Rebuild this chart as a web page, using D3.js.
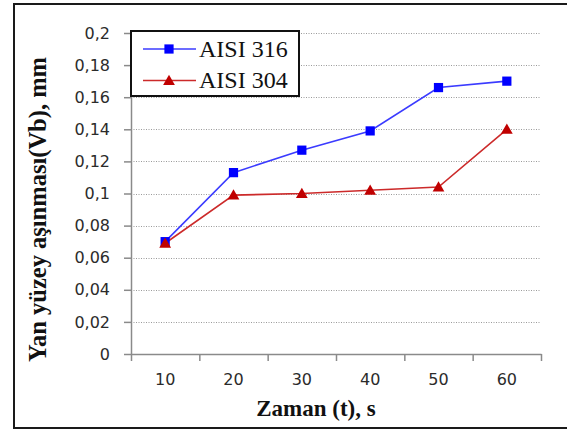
<!DOCTYPE html>
<html>
<head>
<meta charset="utf-8">
<script src="https://cdn.jsdelivr.net/npm/d3@7"></script>
<style>
  body { margin: 0; background: #fff; }
  svg { display: block; }
</style>
</head>
<body>
<div id="chart"></div>
<script>
// Veriler
var zaman = ["10", "20", "30", "40", "50", "60"];
var aisi316 = [0.070, 0.113, 0.127, 0.139, 0.166, 0.170];
var aisi304 = [0.069, 0.099, 0.100, 0.102, 0.104, 0.140];
var yTicks = [0, 0.02, 0.04, 0.06, 0.08, 0.1, 0.12, 0.14, 0.16, 0.18, 0.2];
var seriler = [
  { ad: "AISI 316", degerler: aisi316, renk: "#0000ff", cizgi: "#3b3bff", isaret: "kare" },
  { ad: "AISI 304", degerler: aisi304, renk: "#c00000", cizgi: "#cc2a2a", isaret: "ucgen" }
];

var W = 567, H = 430;
var plot = { left: 131, right: 541, top: 33, bottom: 354 };

var svg = d3.select("#chart").append("svg")
  .attr("width", W)
  .attr("height", H);

svg.append("rect").attr("width", W).attr("height", H).attr("fill", "#fff");

// dış çerçeve
svg.append("rect")
  .attr("x", 14).attr("y", 4)
  .attr("width", 620).attr("height", 424)
  .attr("fill", "none")
  .attr("stroke", "#1a1a1a")
  .attr("stroke-width", 2);

var xScale = d3.scaleBand().domain(zaman).range([plot.left, plot.right]).padding(0);
var xKenar = d3.scaleLinear().domain([0, zaman.length]).range([plot.left, plot.right]);
var yScale = d3.scaleLinear().domain([0, 0.2]).range([plot.bottom, plot.top]);

var loc = d3.formatLocale({ decimal: ",", thousands: ".", grouping: [3], currency: ["", ""] });
var fmt = loc.format(".2~f");

// yatay kılavuz çizgileri
svg.append("g")
  .selectAll("line")
  .data(yTicks.filter(function(d) { return d > 0; }))
  .enter()
  .append("line")
  .attr("x1", plot.left)
  .attr("x2", plot.right)
  .attr("y1", function(d) { return Math.round(yScale(d)) + 0.5; })
  .attr("y2", function(d) { return Math.round(yScale(d)) + 0.5; })
  .attr("stroke", "#9a9a9a")
  .attr("stroke-width", 1)
  .attr("stroke-dasharray", "1,1.5");

// y ekseni
var yAxis = svg.append("g")
  .attr("transform", "translate(" + plot.left + ",0)")
  .call(d3.axisLeft(yScale).tickValues(yTicks).tickFormat(fmt).tickSizeInner(7).tickSizeOuter(0).tickPadding(14));
yAxis.select(".domain").attr("stroke", "#8a8a8a").attr("stroke-width", 1.5);
yAxis.selectAll(".tick line").attr("stroke", "#8a8a8a").attr("stroke-width", 1.5);
yAxis.selectAll("text")
  .style("font-family", "'DejaVu Sans', sans-serif")
  .style("font-size", "16px")
  .attr("fill", "#2b2b2b");

// x ekseni: kenar işaretleri
var xAxisTicks = svg.append("g")
  .attr("transform", "translate(0," + plot.bottom + ")")
  .call(d3.axisBottom(xKenar).tickValues(d3.range(zaman.length + 1)).tickFormat("").tickSizeInner(7).tickSizeOuter(0));
xAxisTicks.select(".domain").attr("stroke", "#8a8a8a").attr("stroke-width", 1.5);
xAxisTicks.selectAll(".tick line").attr("stroke", "#8a8a8a").attr("stroke-width", 1.5);

// x ekseni: etiketler
var xAxis = svg.append("g")
  .attr("transform", "translate(0," + plot.bottom + ")")
  .call(d3.axisBottom(xScale).tickSize(0).tickPadding(20));
xAxis.select(".domain").remove();
xAxis.selectAll("text")
  .style("font-family", "'DejaVu Sans', sans-serif")
  .style("font-size", "16px")
  .attr("fill", "#2b2b2b");

// çizgiler ve işaretler
var line = d3.line()
  .x(function(d, i) { return xScale(zaman[i]) + xScale.bandwidth() / 2; })
  .y(function(d) { return yScale(d); });

var kare = d3.symbol().type(d3.symbolSquare).size(85);
var ucgen = d3.symbol().type(d3.symbolTriangle).size(60);

seriler.slice().reverse().forEach(function(s) {
  svg.append("path")
    .datum(s.degerler)
    .attr("d", line)
    .attr("fill", "none")
    .attr("stroke", s.cizgi)
    .attr("stroke-width", 1.6);
});

seriler.forEach(function(s) {
  svg.append("g")
    .selectAll("path")
    .data(s.degerler)
    .enter()
    .append("path")
    .attr("transform", function(d, i) {
      return "translate(" + (xScale(zaman[i]) + xScale.bandwidth() / 2) + "," + (yScale(d) + (s.isaret === "ucgen" ? 1 : 0)) + ")";
    })
    .attr("d", s.isaret === "kare" ? kare : ucgen)
    .attr("fill", s.renk);
});

// gösterge
var legend = svg.append("g");
legend.append("rect")
  .attr("x", 131).attr("y", 31)
  .attr("width", 168).attr("height", 65)
  .attr("fill", "#fff")
  .attr("stroke", "#111")
  .attr("stroke-width", 2);

seriler.forEach(function(s, i) {
  var cy = 49 + i * 31.5;
  legend.append("line")
    .attr("x1", 143).attr("x2", 196)
    .attr("y1", cy).attr("y2", cy)
    .attr("stroke", s.cizgi)
    .attr("stroke-width", 1.6);
  legend.append("path")
    .attr("transform", "translate(169," + (cy + (s.isaret === "ucgen" ? 1 : 0)) + ")")
    .attr("d", s.isaret === "kare" ? kare : ucgen)
    .attr("fill", s.renk);
  legend.append("text")
    .attr("x", 199)
    .attr("y", cy + 7.5)
    .text(s.ad)
    .style("font-family", "'Liberation Serif', 'Times New Roman', serif")
    .style("font-size", "24px")
    .attr("fill", "#111");
});

// eksen başlıkları
svg.append("text")
  .attr("x", 316)
  .attr("y", 416)
  .attr("text-anchor", "middle")
  .text("Zaman (t), s")
  .style("font-family", "'Liberation Serif', 'Times New Roman', serif")
  .style("font-size", "23px")
  .style("font-weight", "bold")
  .attr("fill", "#111");

svg.append("text")
  .attr("transform", "translate(46,209.5) rotate(-90)")
  .attr("text-anchor", "middle")
  .attr("textLength", 305)
  .attr("lengthAdjust", "spacingAndGlyphs")
  .text("Yan yüzey aşınması(Vb), mm")
  .style("font-family", "'Liberation Serif', 'Times New Roman', serif")
  .style("font-size", "26px")
  .style("font-weight", "bold")
  .attr("fill", "#111");
</script>
</body>
</html>
